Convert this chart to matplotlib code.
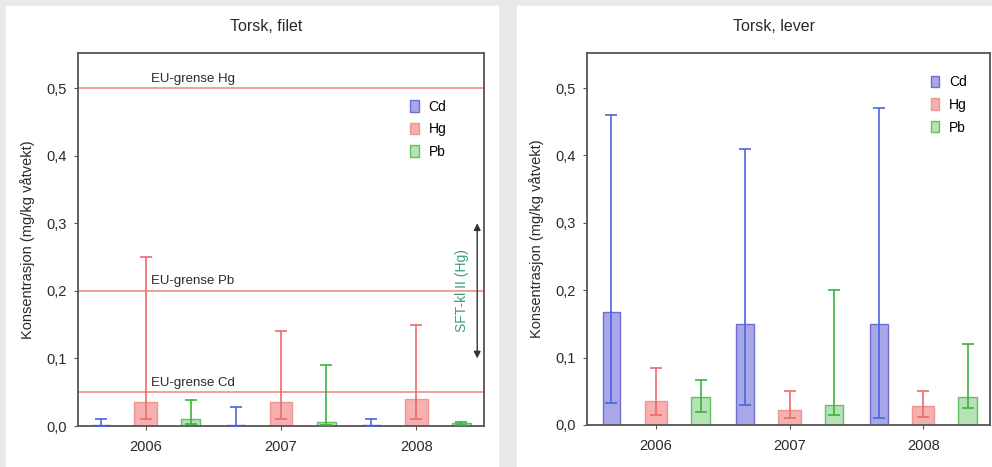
"""Torsk, filet / lever: Cd, Hg, Pb concentrations 2006-2008 with EU limits."""

import matplotlib.pyplot as plt
import numpy as np
from matplotlib.patches import Rectangle
from matplotlib.ticker import FixedLocator, FixedFormatter

plt.rcParams["font.family"] = ["Liberation Sans", "DejaVu Sans"]

years = ["2006", "2007", "2008"]
metals = ["Cd", "Hg", "Pb"]
ytick_values = [0.0, 0.1, 0.2, 0.3, 0.4, 0.5]
ytick_labels = ["0,0", "0,1", "0,2", "0,3", "0,4", "0,5"]

# Torsk, filet (mean, min, max) per year
cd_filet = [0.002, 0.002, 0.002]
cd_filet_lo = [0.000, 0.000, 0.000]
cd_filet_hi = [0.010, 0.028, 0.010]
hg_filet = [0.035, 0.035, 0.040]
hg_filet_lo = [0.010, 0.010, 0.010]
hg_filet_hi = [0.250, 0.140, 0.150]
pb_filet = [0.010, 0.006, 0.004]
pb_filet_lo = [0.003, 0.002, 0.002]
pb_filet_hi = [0.038, 0.090, 0.006]

# Torsk, lever
cd_lever = [0.168, 0.150, 0.150]
cd_lever_lo = [0.032, 0.030, 0.010]
cd_lever_hi = [0.460, 0.410, 0.470]
hg_lever = [0.035, 0.023, 0.028]
hg_lever_lo = [0.015, 0.010, 0.012]
hg_lever_hi = [0.085, 0.050, 0.050]
pb_lever = [0.041, 0.030, 0.042]
pb_lever_lo = [0.020, 0.015, 0.025]
pb_lever_hi = [0.067, 0.200, 0.120]

# EU limits shown on the filet panel
eu_limit_labels = ["EU-grense Hg", "EU-grense Pb", "EU-grense Cd"]
eu_limit_values = [0.5, 0.2, 0.05]
sft_range = [0.1, 0.3]
sft_label = "SFT-kl II (Hg)"

FILL = {"Cd": "#9a98e4", "Hg": "#f5a3a3", "Pb": "#a9deaa"}
EDGE = {"Cd": "#5c5cd0", "Hg": "#f08a8a", "Pb": "#4cb84c"}
ERR = {"Cd": "#4a66e0", "Hg": "#f06a6a", "Pb": "#3cb23c"}
WIDTH = {"Cd": 0.4, "Hg": 0.5, "Pb": 0.42}
TEXT = "#2a2a2a"
SPINE = "#555555"


def draw_panel(ax, title, series, xlim, legend_anchor):
    for i, (metal, (vals, lo, hi)) in enumerate(zip(metals, series)):
        x = np.arange(len(years)) * 3 + i
        vals = np.array(vals)
        ax.bar(x, vals, width=WIDTH[metal], color=FILL[metal], alpha=0.85,
               edgecolor=EDGE[metal], linewidth=1.0, label=metal, zorder=2)
        yerr = [vals - np.array(lo), np.array(hi) - vals]
        ax.errorbar(x, vals, yerr=yerr, fmt="none", ecolor=ERR[metal],
                    elinewidth=1.2, capsize=4, capthick=1.2, zorder=3)

    ax.set_xlim(*xlim)
    ax.set_ylim(0, 0.552)
    ax.xaxis.set_major_locator(FixedLocator([1, 4, 7]))
    ax.xaxis.set_major_formatter(FixedFormatter(years))
    ax.yaxis.set_major_locator(FixedLocator(ytick_values))
    ax.yaxis.set_major_formatter(FixedFormatter(ytick_labels))
    ax.tick_params(axis="both", colors=SPINE, labelcolor=TEXT, labelsize=10.5,
                   length=3, width=0.8)
    ax.tick_params(axis="x", pad=7)
    ax.tick_params(axis="y", pad=5)
    for sp in ax.spines.values():
        sp.set_color(SPINE)
        sp.set_linewidth(1.3)

    # title sits a little left of the axes centre in the original
    ax.set_title(title, fontsize=11.5, color=TEXT, pad=16, x=0.463)
    ax.set_ylabel("Konsentrasjon (mg/kg våtvekt)", fontsize=10.5, color=TEXT,
                  labelpad=8)
    ax.legend(loc="upper left", bbox_to_anchor=legend_anchor, frameon=False,
              fontsize=10, handlelength=0.6, handleheight=0.9,
              handletextpad=0.7, labelspacing=0.62, borderaxespad=0)


fig = plt.figure(figsize=(9.92, 4.67), dpi=100)
fig.patch.set_facecolor("#e8e8e6")
fig.patches.append(Rectangle((6 / 992, 0), 492 / 992, 461 / 467,
                             transform=fig.transFigure, color="white", zorder=-10))
fig.patches.append(Rectangle((517 / 992, 0), 475 / 992, 461 / 467,
                             transform=fig.transFigure, color="white", zorder=-10))

ax1 = fig.add_axes([78 / 992, 41 / 467, 406 / 992, 373 / 467])
ax2 = fig.add_axes([587 / 992, 42 / 467, 403 / 992, 372 / 467])
for ax in (ax1, ax2):
    ax.set_facecolor("none")

draw_panel(ax1, "Torsk, filet",
           [(cd_filet, cd_filet_lo, cd_filet_hi),
            (hg_filet, hg_filet_lo, hg_filet_hi),
            (pb_filet, pb_filet_lo, pb_filet_hi)],
           (-0.5, 8.5), (0.805, 0.89))
draw_panel(ax2, "Torsk, lever",
           [(cd_lever, cd_lever_lo, cd_lever_hi),
            (hg_lever, hg_lever_lo, hg_lever_hi),
            (pb_lever, pb_lever_lo, pb_lever_hi)],
           (-0.55, 8.5), (0.84, 0.955))

# EU limits and SFT class on filet panel
for label, val in zip(eu_limit_labels, eu_limit_values):
    ax1.axhline(val, color="#f28c8c", linewidth=1.2, zorder=1)
    ax1.text(1.12, val + 0.005, label, fontsize=9.5, color=TEXT, va="bottom",
             ha="left")

ax1.annotate("", xy=(8.35, sft_range[0]), xytext=(8.35, sft_range[1]),
             arrowprops=dict(arrowstyle="<|-|>", color="#333333", lw=1.0,
                             mutation_scale=10, shrinkA=0, shrinkB=0))
ax1.text(8.02, sum(sft_range) / 2, sft_label, rotation=90, fontsize=10,
         color="#3aa07a", ha="center", va="center")

fig.savefig("out.png", dpi=100, facecolor=fig.get_facecolor())
